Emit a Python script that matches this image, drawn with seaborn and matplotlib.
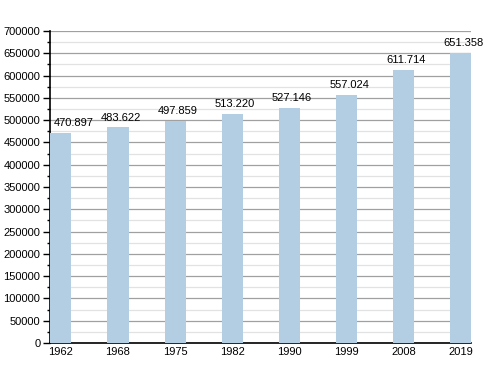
import matplotlib
matplotlib.use("Agg")
import matplotlib.pyplot as plt
import seaborn as sns
from matplotlib.ticker import MultipleLocator

years = ["1962", "1968", "1975", "1982", "1990", "1999", "2008", "2019"]
population = [470897, 483622, 497859, 513220, 527146, 557024, 611714, 651358]
labels = ["470.897", "483.622", "497.859", "513.220", "527.146", "557.024", "611.714", "651.358"]

sns.set_style("white")
plt.rcParams["font.family"] = ["Liberation Sans", "DejaVu Sans"]
plt.rcParams["text.color"] = "black"
plt.rcParams["xtick.color"] = "black"
plt.rcParams["ytick.color"] = "black"

fig = plt.figure(figsize=(5, 3.73), dpi=100)
ax = fig.add_axes([0.1, 0.0804, 0.842, 0.8365])

sns.barplot(x=years, y=population, color="#b3cde3", width=0.37, saturation=1,
            edgecolor="none", linewidth=0, ax=ax, zorder=3)

ax.set_ylim(0, 700000)
ax.set_xlim(-0.19, 7.18)
ax.yaxis.set_major_locator(MultipleLocator(50000))
ax.yaxis.set_minor_locator(MultipleLocator(25000))
ax.grid(axis="y", which="major", color="#a0a0a0", linewidth=0.9, zorder=0)
ax.grid(axis="y", which="minor", color="#e2e2e2", linewidth=0.9, zorder=0)
ax.set_axisbelow(True)

for s in ["top", "right"]:
    ax.spines[s].set_visible(False)
for s in ["left", "bottom"]:
    ax.spines[s].set_color("black")
    ax.spines[s].set_linewidth(1.2)

ax.tick_params(axis="y", which="major", direction="out", length=5, width=1, left=True, labelsize=8, pad=2)
ax.tick_params(axis="y", which="minor", direction="out", length=2.5, width=1, left=True)
ax.tick_params(axis="x", length=0, labelsize=8, pad=3)

for i, (v, t) in enumerate(zip(population, labels)):
    dx = 9 if i == 0 else 2
    ax.annotate(t, (i, v), xytext=(dx, 3.5), textcoords="offset points",
                ha="center", va="bottom", fontsize=8, color="black")

fig.savefig("out.png", dpi=100)
